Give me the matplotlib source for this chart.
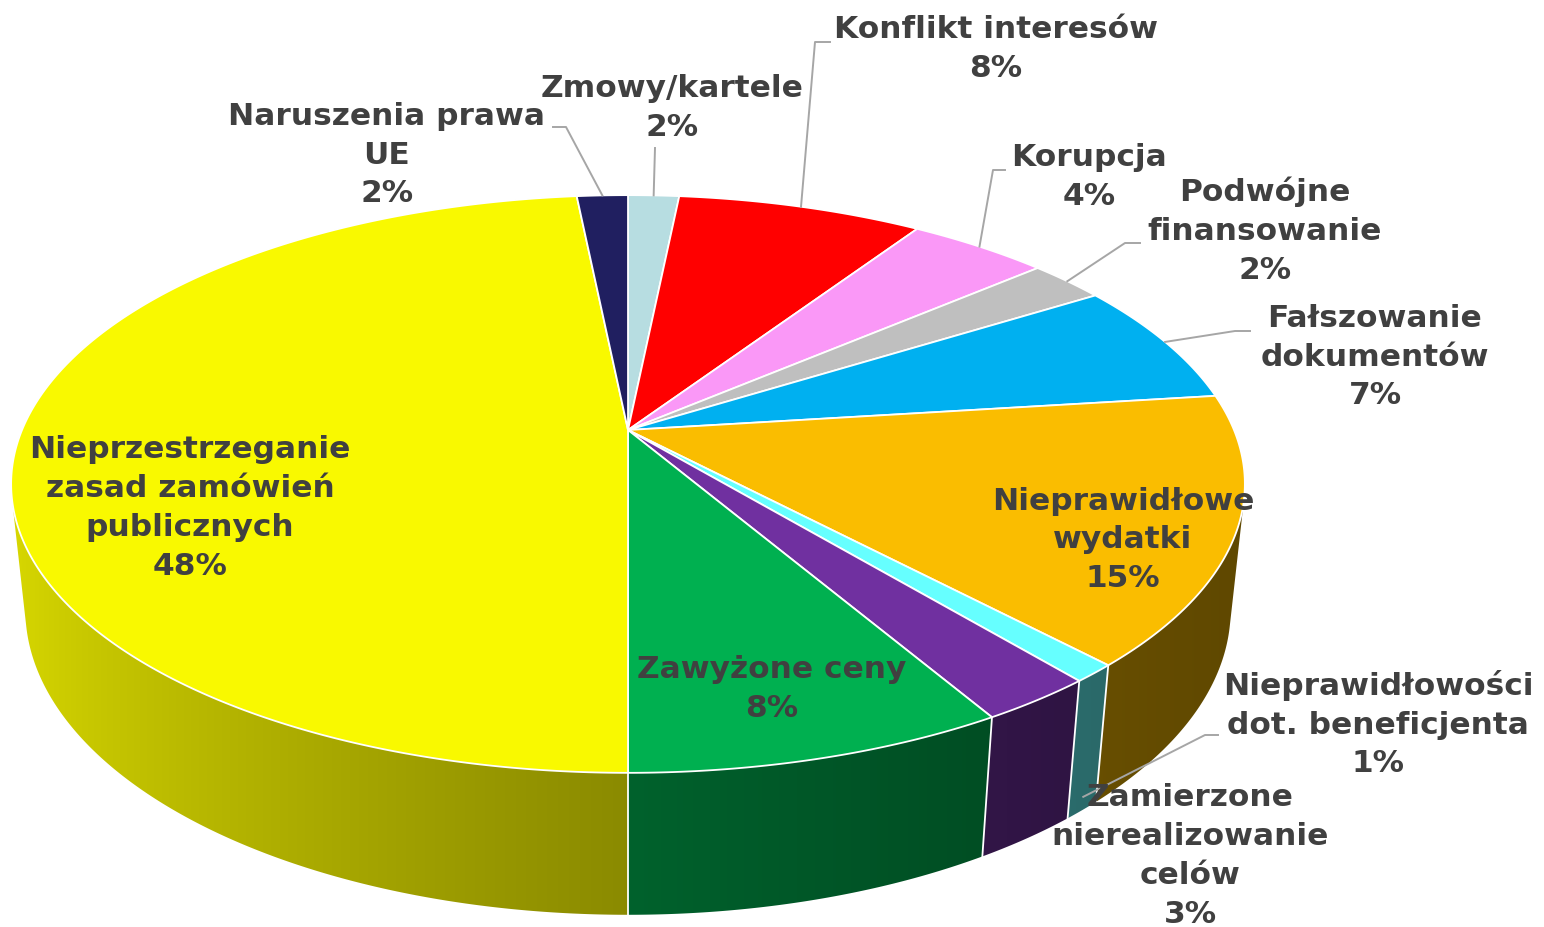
import numpy as np
import matplotlib
matplotlib.use('Agg')
import matplotlib.pyplot as plt
from matplotlib.patches import Polygon

# slices clockwise from 12 o'clock
labels = ['Zmowy/kartele', 'Konflikt interesów', 'Korupcja', 'Podwójne\nfinansowanie',
          'Fałszowanie\ndokumentów', 'Nieprawidłowe\nwydatki',
          'Nieprawidłowości\ndot. beneficjenta', 'Zamierzone\nnierealizowanie\ncelów',
          'Zawyżone ceny', 'Nieprzestrzeganie\nzasad zamówień\npublicznych',
          'Naruszenia prawa\nUE']
values = [1.6, 7.7, 4.4, 2.4, 6.9, 15.0, 1.0, 2.6, 8.4, 48.4, 1.6]
colors = ['#b7dde1', '#ff0000', '#fa98f7', '#bfbfbf', '#00b0f0', '#fabd00',
          '#66ffff', '#7030a0', '#00b050', '#f9f900', '#201f60']

# text centres (pixels) and leader elbows
label_xy = [(672, 108), (996, 49), (1089, 177), (1265, 231), (1375, 357), (1123, 540),
            (1378, 724), (1190, 856), (772, 689), (190, 508), (387, 155)]
leaders = [[(655, 148)], [(830, 42), (815, 42)], [(1005, 170), (993, 170)],
           [(1140, 243), (1125, 243)], [(1250, 331), (1235, 331)], None,
           [(1218, 735), (1205, 735)], None, None, None, [(553, 127), (566, 127)]]

CX, CY = 628, 430
R = 606
SIN_E = 0.46
COS_E = np.sqrt(1 - SIN_E ** 2)
D = 5.35 * COS_E
T = 0.235


def project(u, v, z):
    w = D - v * COS_E - z * SIN_E
    x = CX + R * D * u / w
    y = CY + R * D * (v * SIN_E - z * COS_E) / w
    return x, y


def shade(color, phi):
    rgb = np.array(matplotlib.colors.to_rgb(color))
    f = 0.38 + 0.5 * ((1 - np.cos(phi)) / 2) ** 1.5
    return np.clip(np.outer(f, rgb), 0, 1)


fig = plt.figure(figsize=(15.44, 9.27), dpi=100)
ax = fig.add_axes([0, 0, 1, 1])
ax.set_xlim(0, 1544)
ax.set_ylim(927, 0)
ax.axis('off')

fracs = np.array(values) / np.sum(values)
bounds = -np.pi / 2 + 2 * np.pi * np.concatenate([[0], np.cumsum(fracs)])
front = 1 / (D * COS_E)
f0, f1 = np.arcsin(front), np.pi - np.arcsin(front)

# screen x -> angle on the visible front arc
phs = np.linspace(f0, f1, 800)
xs_arc = np.array([project(np.cos(p), np.sin(p), 0)[0] for p in phs])

# side wall, one gradient per slice
for i in range(len(values)):
    a0, a1 = max(bounds[i], f0), min(bounds[i + 1], f1)
    if a1 <= a0:
        continue
    ph = np.linspace(a0, a1, 200)
    top = [project(np.cos(p), np.sin(p), 0) for p in ph]
    bot = [project(np.cos(p), np.sin(p), -T) for p in ph[::-1]]
    patch = Polygon(top + bot, closed=True, facecolor='none', edgecolor='none')
    ax.add_patch(patch)
    xy = np.array(top + bot)
    x0, x1 = xy[:, 0].min() - 2, xy[:, 0].max() + 2
    y0, y1 = xy[:, 1].min() - 2, xy[:, 1].max() + 2
    gx = np.linspace(x0, x1, 400)
    gphi = np.interp(gx, xs_arc[::-1], phs[::-1])
    img = shade(colors[i], gphi)[None, :, :]
    im = ax.imshow(img, extent=[x0, x1, y1, y0], aspect='auto', interpolation='bilinear')
    im.set_clip_path(patch)

for b in bounds:
    if np.sin(b) > front:
        x0, y0 = project(np.cos(b), np.sin(b), 0)
        x1, y1 = project(np.cos(b), np.sin(b), -T)
        ax.plot([x0, x1], [y0, y1], color='white', lw=1.3)

# top face
for i in range(len(values)):
    ph = np.linspace(bounds[i], bounds[i + 1], max(3, int(np.degrees(bounds[i + 1] - bounds[i]) * 2)))
    pts = [project(0, 0, 0)] + [project(np.cos(p), np.sin(p), 0) for p in ph]
    ax.add_patch(Polygon(pts, closed=True, facecolor=colors[i], edgecolor='white', lw=1.3))

# labels and leader lines
for i in range(len(values)):
    txt = labels[i] + '\n' + f'{round(values[i])}%'
    ax.text(label_xy[i][0], label_xy[i][1], txt, ha='center', va='center',
            multialignment='center', fontsize=22.5, fontweight='bold',
            color='#404040', linespacing=1.43, family='DejaVu Sans', zorder=5)
    if leaders[i] is not None:
        m = (bounds[i] + bounds[i + 1]) / 2
        z = -0.9 * T if np.sin(m) > front else 0
        end = project(np.cos(m), np.sin(m), z)
        pts = leaders[i] + [end]
        ax.plot([p[0] for p in pts], [p[1] for p in pts], color='#a6a6a6', lw=1.4, zorder=4)

ax.set_xlim(0, 1544)
ax.set_ylim(927, 0)
fig.savefig('out.png', dpi=100)
